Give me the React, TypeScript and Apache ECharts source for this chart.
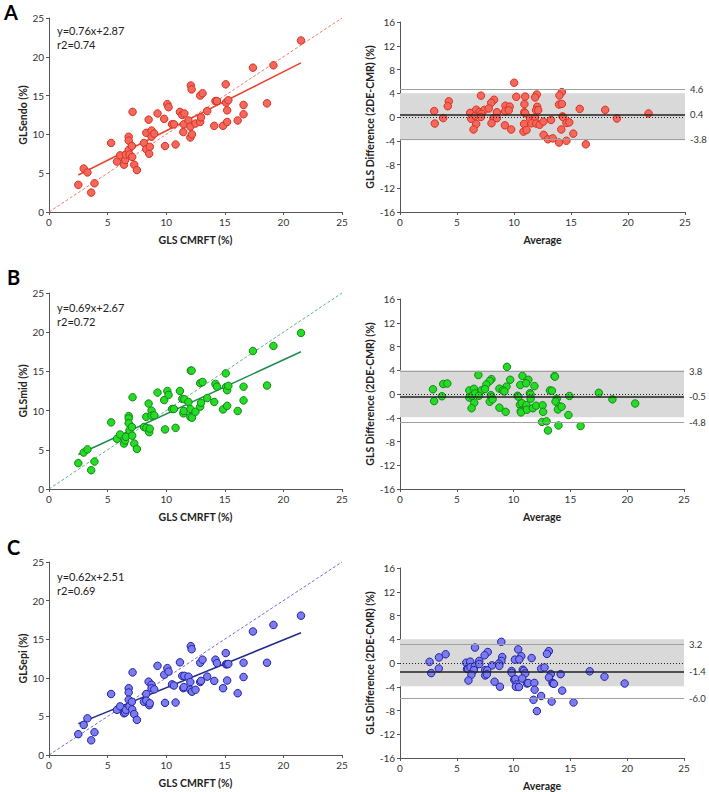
import { useEffect, useRef } from "react";
import * as echarts from "echarts";

// GLS by CMR feature tracking (shared x values for all three panels)
const cmrft = [2.5, 2.96, 3.28, 3.6, 3.88, 5.3, 5.8, 6.07, 6.4, 6.5, 6.56, 6.8, 6.8, 6.8, 6.87, 7.07, 7.1, 7.13, 7.27, 7.5, 8.1, 8.3, 8.3, 8.5, 8.55, 8.6, 8.75, 8.75, 8.98, 9.26, 9.83, 9.9, 10.1, 10.2, 10.5, 10.66, 10.8, 11.17, 11.37, 11.55, 11.46, 11.5, 11.9, 12.06, 12.1, 12.17, 12.06, 12.2, 12.5, 12.9, 12.97, 12.9, 13.1, 13.5, 14.1, 14.2, 14.33, 14.85, 15.08, 15.1, 15.2, 15.2, 15.3, 16.1, 16.6, 16.6, 17.4, 18.6, 19.15, 21.5];
const glsEndo = [3.5, 5.6, 5.1, 2.5, 3.7, 8.9, 6.5, 7.3, 6.1, 6.7, 7.4, 9.7, 9.2, 8.0, 7.4, 8.5, 7.1, 12.9, 6.1, 5.4, 8.9, 10.2, 8.1, 11.9, 7.5, 8.4, 10.5, 9.7, 10.1, 12.7, 12.0, 8.5, 13.9, 13.5, 11.3, 11.3, 8.7, 12.9, 12.5, 12.7, 10.3, 11.3, 11.8, 11.0, 16.3, 15.8, 9.6, 10.0, 11.4, 11.6, 12.2, 15.0, 15.3, 13.0, 11.1, 14.3, 14.3, 11.1, 16.45, 14.1, 13.1, 11.6, 14.4, 11.8, 12.6, 13.8, 18.6, 14.0, 18.9, 22.1];
const glsMid = [3.3, 4.65, 5.05, 2.4, 3.5, 8.5, 6.4, 6.95, 5.8, 6.2, 6.65, 9.3, 9.0, 8.4, 7.5, 7.9, 6.8, 11.7, 5.8, 5.1, 7.9, 9.2, 7.8, 10.9, 7.25, 7.7, 10.0, 9.35, 9.4, 12.3, 11.35, 7.6, 12.5, 12.0, 10.2, 10.2, 7.8, 12.5, 11.5, 11.45, 9.65, 9.95, 11.1, 10.2, 15.1, 15.1, 9.2, 9.1, 9.85, 10.5, 11.0, 13.5, 13.65, 11.6, 11.1, 13.4, 13.05, 10.15, 14.75, 13.0, 12.6, 10.6, 13.15, 9.95, 11.3, 13.05, 17.6, 13.2, 18.25, 19.9];
const glsEpi = [2.7, 3.9, 4.75, 1.9, 2.95, 7.9, 5.85, 6.3, 5.4, 5.5, 5.85, 8.65, 8.1, 7.15, 6.3, 6.9, 5.9, 10.7, 5.3, 4.55, 6.9, 7.9, 7.05, 9.5, 6.45, 6.7, 9.1, 8.65, 8.5, 11.55, 10.4, 6.75, 11.25, 10.8, 9.15, 9.0, 6.8, 12.0, 10.25, 10.25, 8.65, 8.8, 10.15, 9.45, 14.1, 13.7, 8.45, 8.2, 8.45, 9.45, 9.6, 11.95, 12.35, 10.15, 9.6, 12.35, 11.9, 8.65, 13.2, 11.75, 9.65, 11.75, 11.8, 8.0, 10.1, 11.95, 16.0, 11.95, 16.85, 18.05];

const panelLetters = ["A", "B", "C"];
const yTitles = ["GLSendo (%)", "GLSmid (%)", "GLSepi (%)"];
const slopes = [0.76, 0.69, 0.62];
const intercepts = [2.87, 2.67, 2.51];
const r2s = [0.74, 0.72, 0.69];
const baBias = [0.4, -0.5, -1.4];
const baUpper = [4.6, 3.8, 3.2];
const baLower = [-3.8, -4.8, -6.0];
const baBand = [-3.9, 4];
const xTicks = { min: 0, max: 25, interval: 5 };
const yTicksScatter = { min: 0, max: 25, interval: 5 };
const yTicksBA = { min: -16, max: 16, interval: 4 };

const FONT = "Lato, 'Open Sans', sans-serif";

const styles = [
  { fill: "#f4675d", border: "#d8321f", line: "#e8432c", ident: "#ee5a48" },
  { fill: "#24dc24", border: "#17861a", line: "#1e8a4e", ident: "#34a060" },
  { fill: "#7c7cf2", border: "#2323a0", line: "#1f2b8c", ident: "#4a4ab8" },
];

const grids = [
  { left: 49, top: 18, width: 293, height: 194 },
  { left: 400, top: 22, width: 285, height: 190 },
  { left: 49, top: 293, width: 293, height: 196 },
  { left: 400, top: 299, width: 284, height: 190 },
  { left: 49, top: 562, width: 293, height: 193 },
  { left: 400, top: 568, width: 284, height: 190 },
];

const letterTop = [2, 267, 537];
const letterX = [4, 7, 7];
const eqY = [30, 307, 576];

export default function App() {
  const ref = useRef<HTMLDivElement>(null);
  useEffect(() => {
    if (!ref.current) return;
    const chart = echarts.init(ref.current, undefined, { renderer: "svg" });
    const series: any[] = [];
    const xAxis: any[] = [];
    const yAxis: any[] = [];
    const allY = [glsEndo, glsMid, glsEpi];
    const baseAxis = {
      type: "value",
      axisLine: { show: true, onZero: false, lineStyle: { color: "#555", width: 1 } },
      axisTick: { show: true, length: 3, lineStyle: { color: "#555" } },
      splitLine: { show: false },
      axisLabel: { fontSize: 10, color: "#333", margin: 5, fontFamily: FONT },
      nameLocation: "middle",
      nameTextStyle: { fontSize: 10.5, fontWeight: "bold", color: "#222", fontFamily: FONT },
    };
    const xmin = Math.min(...cmrft);
    const xmax = Math.max(...cmrft);
    for (let p = 0; p < 3; p++) {
      const ys = allY[p];
      const st = styles[p];
      const gL = 2 * p;
      const gR = 2 * p + 1;
      xAxis.push({ ...baseAxis, gridIndex: gL, ...xTicks, name: "GLS CMRFT (%)", nameGap: 22 });
      xAxis.push({ ...baseAxis, gridIndex: gR, ...xTicks, name: "Average", nameGap: 22 });
      yAxis.push({ ...baseAxis, gridIndex: gL, ...yTicksScatter, name: yTitles[p], nameGap: 20 });
      yAxis.push({ ...baseAxis, gridIndex: gR, ...yTicksBA, name: "GLS Difference (2DE-CMR) (%)", nameGap: 20 });

      // identity line
      series.push({
        type: "line", xAxisIndex: gL, yAxisIndex: gL, symbol: "none", silent: true, z: 2,
        data: [[0, 0], [25, 25]],
        lineStyle: { color: st.ident, width: 0.8, type: [3, 2] },
      });
      // regression line
      series.push({
        type: "line", xAxisIndex: gL, yAxisIndex: gL, symbol: "none", silent: true, z: 2,
        data: [[xmin, slopes[p] * xmin + intercepts[p]], [xmax, slopes[p] * xmax + intercepts[p]]],
        lineStyle: { color: st.line, width: 1.5 },
      });
      // scatter
      series.push({
        type: "scatter", xAxisIndex: gL, yAxisIndex: gL, z: 3, symbolSize: 7.5,
        data: cmrft.map((x, j) => [x, ys[j]]),
        itemStyle: { color: st.fill, borderColor: st.border, borderWidth: 1, opacity: 1 },
      });

      // Bland-Altman reference band and lines
      const lbl = (v: number) => ({
        show: true, position: "end", distance: 5, formatter: v.toFixed(1),
        fontSize: 9.5, color: "#333", fontFamily: FONT,
      });
      series.push({
        type: "line", xAxisIndex: gR, yAxisIndex: gR, data: [], silent: true, z: 1,
        markArea: {
          silent: true,
          itemStyle: { color: "#d9d9d9" },
          data: [[{ yAxis: baBand[0] }, { yAxis: baBand[1] }]],
        },
        markLine: {
          silent: true, symbol: "none", animation: false,
          data: [
            { yAxis: baUpper[p], lineStyle: { color: "#a0a0a0", width: 1, type: "solid" }, label: lbl(baUpper[p]) },
            { yAxis: baLower[p], lineStyle: { color: "#a0a0a0", width: 1, type: "solid" }, label: lbl(baLower[p]) },
            { yAxis: 0, lineStyle: { color: "#222", width: 1, type: [1, 2] }, label: { show: false } },
            { yAxis: baBias[p], lineStyle: { color: "#222", width: 1.6, type: "solid" }, label: lbl(baBias[p]) },
          ],
        },
      });
      series.push({
        type: "scatter", xAxisIndex: gR, yAxisIndex: gR, z: 3, symbolSize: 7.5,
        data: cmrft.map((x, j) => [(x + ys[j]) / 2, ys[j] - x]),
        itemStyle: { color: st.fill, borderColor: st.border, borderWidth: 1, opacity: 1 },
      });
    }

    const graphic: any[] = [];
    for (let p = 0; p < 3; p++) {
      graphic.push({
        type: "text", left: letterX[p], top: letterTop[p],
        style: { text: panelLetters[p], font: `bold 20px ${FONT}`, fill: "#000" },
      });
      graphic.push({
        type: "text", left: 57, top: eqY[p] - 7,
        style: {
          text: `y=${slopes[p].toFixed(2)}x+${intercepts[p].toFixed(2)}\nr2=${r2s[p].toFixed(2)}`,
          font: `11px ${FONT}`, fill: "#222", lineHeight: 14,
        },
      });
    }

    chart.setOption({
      animation: false,
      backgroundColor: "#fff",
      grid: grids,
      xAxis,
      yAxis,
      series,
      graphic,
    });
    return () => chart.dispose();
  }, []);
  return (
    <div
      ref={ref}
      style={{ position: "absolute", left: 0, top: 0, width: 709, height: 792 }}
    />
  );
}
